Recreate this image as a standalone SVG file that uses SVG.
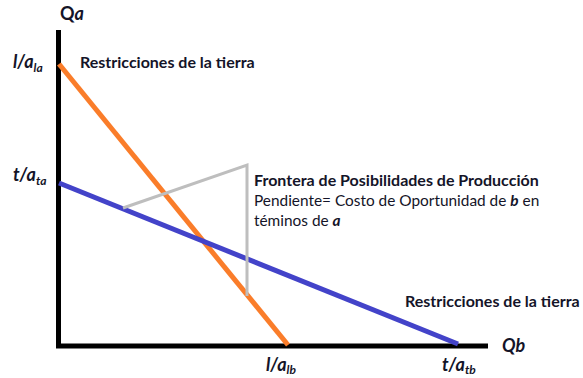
<svg xmlns="http://www.w3.org/2000/svg" width="583" height="378" viewBox="0 0 583 378">
<style>
text{font-family:Lato,"Open Sans","Liberation Sans",sans-serif;fill:#141428;}
.b{font-weight:bold;}
.bi{font-weight:bold;font-style:italic;}
.lbl{font-size:16px;}
.reg{font-size:15.4px;}
.ax{font-size:18px;}
.sub{font-size:12px;}
.axis{stroke:#000;stroke-width:5;fill:none;}
</style>
<rect width="583" height="378" fill="#fff"/>
<g id="axes">
<polyline class="axis" points="58.5,30 58.5,346 488,346"/>
</g>
<g id="connectors">
<line id="tierra-a" x1="59" y1="64" x2="288" y2="345" stroke="#FA7D2A" stroke-width="5"/>
<line id="tierra-b" x1="59" y1="183" x2="458" y2="344" stroke="#4343C9" stroke-width="5"/>
<polyline id="slope" points="123,208 247,165 247,296" stroke="#BEBEBE" stroke-width="3" fill="none"/>
</g>
<g id="label-qa"><text x="60" y="20" class="ax b">Q<tspan class="bi">a</tspan></text></g>
<g id="label-la"><text x="13" y="68" class="ax bi">l/a<tspan class="sub" dy="4">la</tspan></text></g>
<g id="label-ta"><text x="13" y="181" class="ax bi">t/a<tspan class="sub" dy="4">ta</tspan></text></g>
<g id="label-qb"><text x="502" y="352" class="ax bi">Qb</text></g>
<g id="label-lb"><text x="266" y="371" class="ax bi">l/a<tspan class="sub" dy="3">lb</tspan></text></g>
<g id="label-tb"><text x="442" y="371" class="ax bi">t/a<tspan class="sub" dy="3">tb</tspan></text></g>
<g id="label-restr-a"><text x="80" y="68" class="lbl b">Restricciones de la tierra</text></g>
<g id="label-restr-b"><text x="405" y="307" class="lbl b">Restricciones de la tierra</text></g>
<g id="label-fpp">
<text x="254" y="186" class="lbl b">Frontera de Posibilidades de Producción</text>
<text x="254" y="206" class="reg">Pendiente= Costo de Oportunidad de <tspan class="bi">b</tspan> en</text>
<text x="254" y="226" class="reg">téminos de <tspan class="bi">a</tspan></text>
</g>
</svg>
